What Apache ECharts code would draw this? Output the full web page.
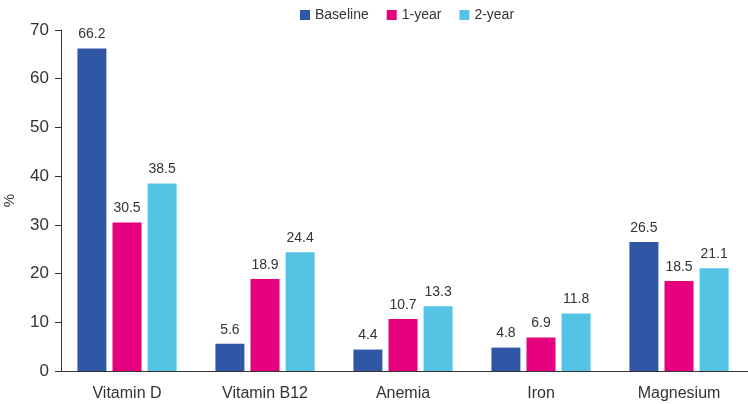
<!DOCTYPE html>
<html><head><meta charset="utf-8">
<script src="https://cdn.jsdelivr.net/npm/echarts@6/dist/echarts.min.js"></script>
<style>html,body{margin:0;padding:0;background:#fff}#c{width:748px;height:404px}</style>
</head><body><div id="c"></div>
<script>
const categories = ['Vitamin D', 'Vitamin B12', 'Anemia', 'Iron', 'Magnesium'];
const baseline = [66.2, 5.6, 4.4, 4.8, 26.5];
const year1 = [30.5, 18.9, 10.7, 6.9, 18.5];
const year2 = [38.5, 24.4, 13.3, 11.8, 21.1];
const yTicks = [0, 10, 20, 30, 40, 50, 60, 70];
const seriesNames = ['Baseline', '1-year', '2-year'];
const colors = ['#3056a6', '#e5007e', '#55c3e3'];
const FONT = 'Liberation Sans';
const chart = echarts.init(document.getElementById('c'));
const mk = (name, data, color) => ({
  name, type: 'bar', data, barWidth: 29, barGap: '21%',
  itemStyle: { color },
  label: { show: true, position: 'top', distance: 7, color: '#333', fontSize: 14, fontFamily: FONT,
    formatter: p => p.value.toFixed(1) }
});
chart.setOption({
  animation: false,
  textStyle: { fontFamily: FONT },
  legend: { top: 3, left: 295, itemWidth: 10, itemHeight: 10, itemGap: 18,
    icon: 'rect', textStyle: { fontSize: 14, color: '#333', fontFamily: FONT },
    data: seriesNames },
  grid: { left: 58, right: 0, top: 30, bottom: 33, outerBoundsMode: 'none', containLabel: false },
  xAxis: { type: 'category', data: categories,
    axisLine: { lineStyle: { color: '#333', width: 1 } },
    axisTick: { alignWithLabel: true, length: 5, lineStyle: { color: '#333' } },
    axisLabel: { fontSize: 16, color: '#333', margin: 15, fontFamily: FONT } },
  yAxis: { type: 'value', min: yTicks[0], max: yTicks[yTicks.length - 1], interval: 10, offset: -3,
    name: '%', nameLocation: 'middle', nameGap: 44, nameRotate: 90,
    nameTextStyle: { fontSize: 15, color: '#333', fontFamily: FONT },
    splitLine: { show: false },
    axisLine: { show: true, lineStyle: { color: '#333' } },
    axisTick: { show: true, length: 6, lineStyle: { color: '#333' } },
    axisLabel: { fontSize: 17, color: '#333', margin: 12, fontFamily: FONT } },
  series: [mk(seriesNames[0], baseline, colors[0]), mk(seriesNames[1], year1, colors[1]), mk(seriesNames[2], year2, colors[2])]
});
</script></body></html>
